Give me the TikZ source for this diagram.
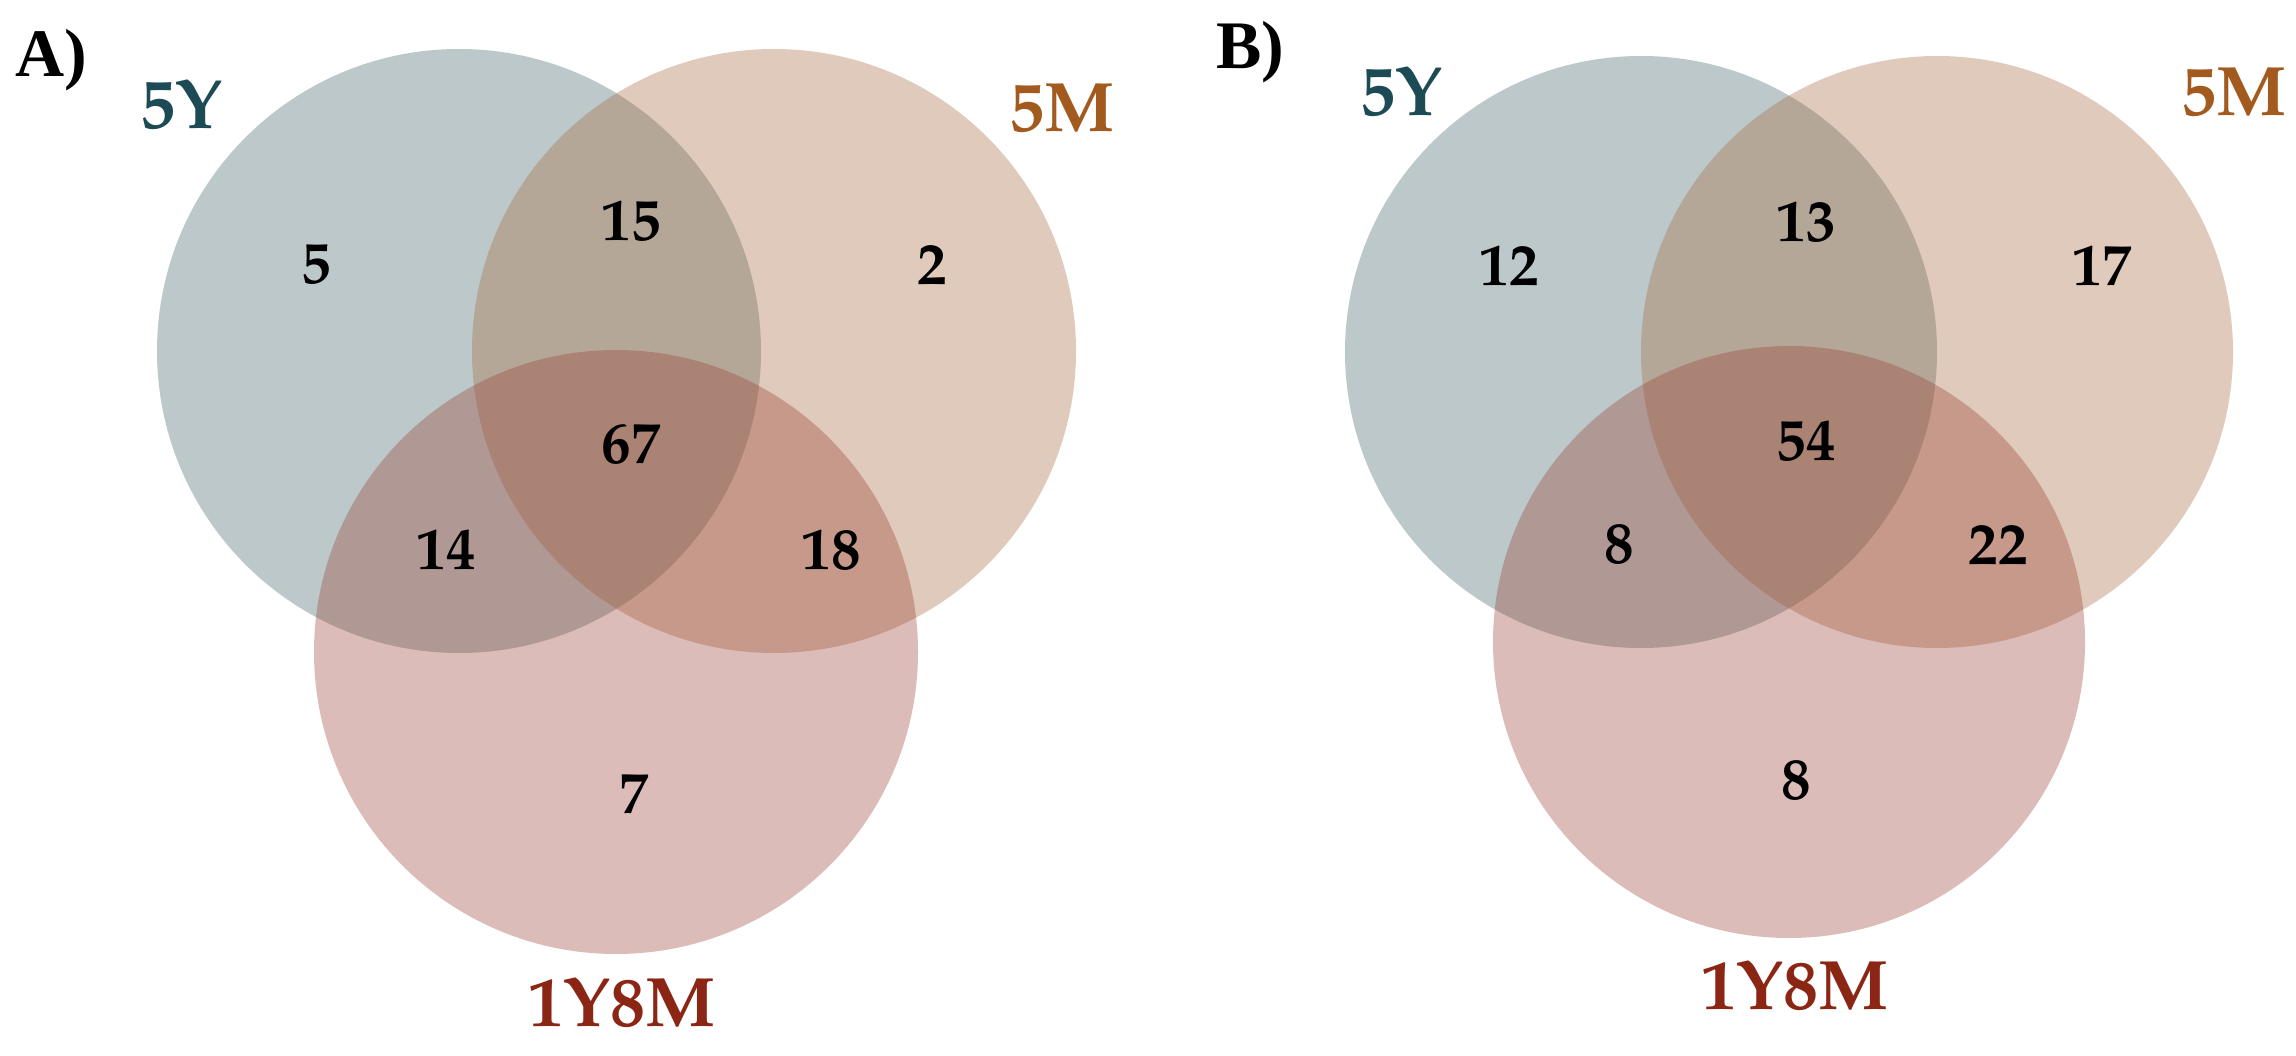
\documentclass[tikz,border=0pt]{standalone}
\usepackage{fontspec}
\setmainfont{texgyrepagella}[Extension=.otf, UprightFont=*-regular, BoldFont=*-bold]
\newfontfamily\panelfont{Liberation Serif}
\definecolor{cY}{RGB}{64,98,104}
\definecolor{cM}{RGB}{166,106,61}
\definecolor{cR}{RGB}{155,64,52}
\definecolor{tY}{RGB}{29,75,85}
\definecolor{tM}{RGB}{163,90,30}
\definecolor{tR}{RGB}{139,38,20}
\tikzset{
  setY/.style={fill=cY, fill opacity=0.35},
  setM/.style={fill=cM, fill opacity=0.35},
  setR/.style={fill=cR, fill opacity=0.35},
  num/.style={inner sep=0pt, font=\fontsize{59}{59}\selectfont\bfseries, text=black},
  lab/.style={inner sep=0pt, font=\fontsize{70}{70}\selectfont\bfseries},
  panel/.style={inner sep=0pt, anchor=base west, font=\panelfont\fontsize{68}{68}\selectfont\bfseries, text=black}
}
\begin{document}
\begin{tikzpicture}[x=1pt,y=-1pt]
\useasboundingbox (0,0) rectangle (2296,1056);
\fill[white] (0,0) rectangle (2296,1056);
% Panel A
\fill[setY] (459,351) circle (302);
\fill[setM] (774,351) circle (302);
\fill[setR] (616,652) circle (302);
\node[panel] (pA) at (15,77) {A)};
\node[lab, text=tY] (aY) at (181,105) {5Y};
\node[lab, text=tM] (aM) at (1062,108) {5M};
\node[lab, text=tR] (aR) at (622,1003) {1Y8M};
\node[num] (a1) at (316,265) {5};
\node[num] (a2) at (631,221) {15};
\node[num] (a3) at (932,265) {2};
\node[num] (a4) at (631,445) {67};
\node[num] (a5) at (446,550) {14};
\node[num] (a6) at (831,550) {18};
\node[num] (a7) at (634,794) {7};
% Panel B
\fill[setY] (1641,352) circle (296);
\fill[setM] (1937,352) circle (296);
\fill[setR] (1789,642) circle (296);
\node[panel] (pB) at (1216,69) {B)};
\node[lab, text=tY] (bY) at (1401,92) {5Y};
\node[lab, text=tM] (bM) at (2234,92) {5M};
\node[lab, text=tR] (bR) at (1795,986) {1Y8M};
\node[num] (b1) at (1509,266) {12};
\node[num] (b2) at (1806,222) {13};
\node[num] (b3) at (2102,266) {17};
\node[num] (b4) at (1806,441) {54};
\node[num] (b5) at (1619,545) {8};
\node[num] (b6) at (1998,545) {22};
\node[num] (b7) at (1796,781) {8};
\end{tikzpicture}
\end{document}
